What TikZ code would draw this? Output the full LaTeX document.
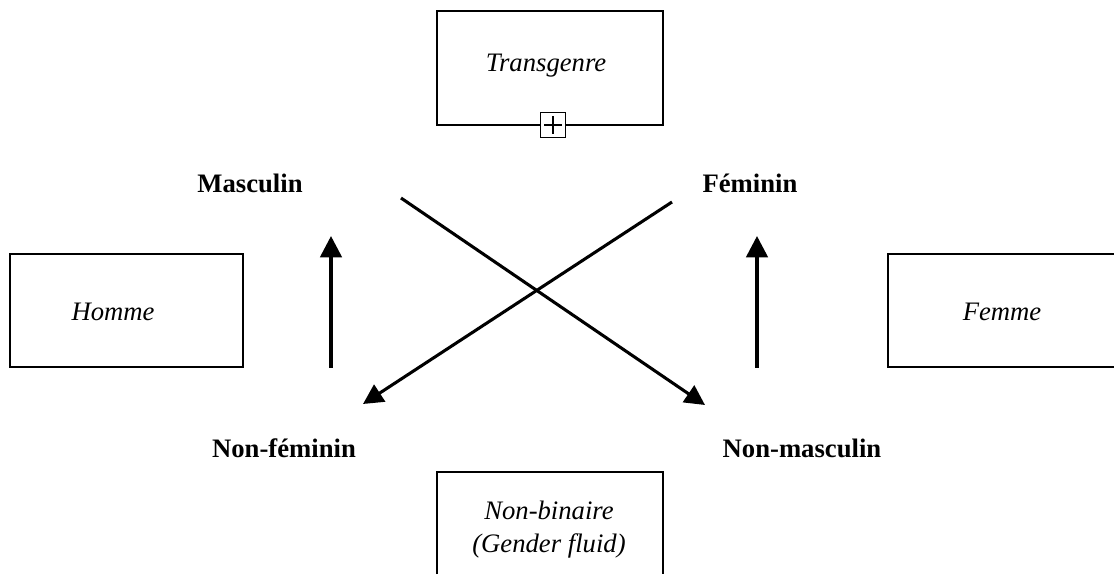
\documentclass[tikz,border=0pt]{standalone}
\usepackage{fontspec}
\setmainfont{Liberation Serif}
\usetikzlibrary{arrows.meta}
\begin{document}
\begin{tikzpicture}[x=0.75pt,y=-0.75pt,
  box/.style={draw, line width=1.4pt, inner sep=0},
  lab/.style={font=\fontsize{20}{24}\selectfont\bfseries, anchor=base, inner sep=0},
  itl/.style={font=\fontsize{20}{24.75}\selectfont\itshape, inner sep=0},
  varrow/.style={line width=2.7pt, -{Triangle[length=16pt,width=16pt]}},
  darrow/.style={line width=2.3pt, -{Triangle[length=15pt,width=15pt]}},
  plusbox/.style={draw, fill=white, line width=1.3pt, minimum size=18.75pt, inner sep=0,
    path picture={\draw[line width=1.1pt] ([xshift=-6.5pt]path picture bounding box.center) -- ([xshift=6.5pt]path picture bounding box.center)
      ([yshift=-6.5pt]path picture bounding box.center) -- ([yshift=6.5pt]path picture bounding box.center);}}]
\useasboundingbox (0,0) rectangle (1114,584);
\clip (0,0) rectangle (1114,584);
% boxes
\node[box, minimum width=169.5pt, minimum height=85.5pt] (transbox) at (550,68) {};
\node[box, minimum width=174.75pt, minimum height=84.75pt] (hommebox) at (126.5,310.5) {};
\node[box, minimum width=174.75pt, minimum height=84.75pt] (femmebox) at (1004.5,310.5) {};
\coordinate (nbbl) at (437,574);
\coordinate (nbtr) at (663,472);
\draw[line width=1.4pt] (nbbl) |- (nbtr) -- (nbtr |- nbbl);
\node[plusbox] (plus) at (553,125) {};
% box texts
\node[itl, anchor=base] (trans) at (546,72) {Transgenre};
\node[itl, anchor=base] (homme) at (113,321) {Homme};
\node[itl, anchor=base] (femme) at (1002,321) {Femme};
\node[itl, align=center, anchor=center] (nonbin) at (549,530) {Non-binaire\\(Gender fluid)};
% labels
\node[lab] (masc) at (250,193) {Masculin};
\node[lab] (fem) at (750,193) {Féminin};
\node[lab] (nfem) at (284,458) {Non-féminin};
\node[lab] (nmasc) at (802,458) {Non-masculin};
% arrow ends
\coordinate (lb) at (331,368);
\coordinate (lt) at (331,236);
\coordinate (rb) at (757,368);
\coordinate (rt) at (757,236);
\coordinate (d1s) at (401,198);
\coordinate (d1e) at (705,405);
\coordinate (d2s) at (672,202);
\coordinate (d2e) at (363,404);
\draw[varrow] (lb) -- (lt);
\draw[varrow] (rb) -- (rt);
\draw[darrow] (d1s) -- (d1e);
\draw[darrow] (d2s) -- (d2e);
\end{tikzpicture}
\end{document}
